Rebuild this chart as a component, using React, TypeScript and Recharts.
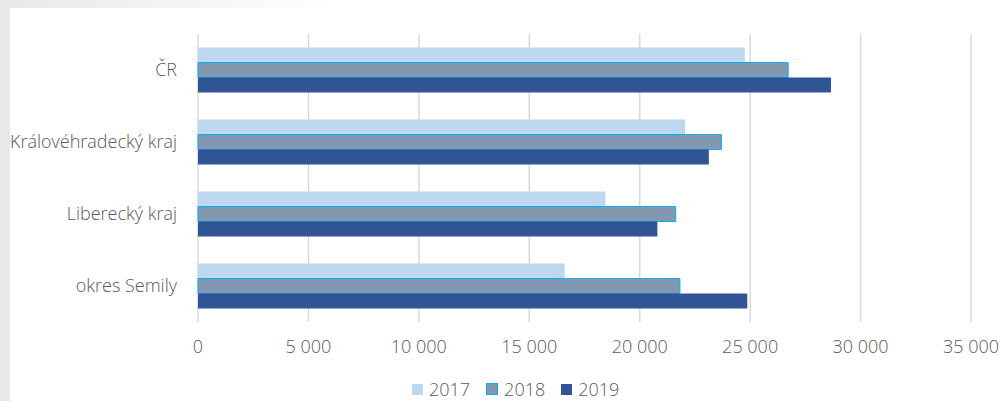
import React from 'react';
import { BarChart, Bar, XAxis, YAxis, CartesianGrid, Legend } from 'recharts';

const categories = ['ČR', 'Královéhradecký kraj', 'Liberecký kraj', 'okres Semily'];
const values2017 = [24760, 22060, 18450, 16600];
const values2018 = [26720, 23700, 21630, 21820];
const values2019 = [28660, 23130, 20800, 24870];
const xTicks = [0, 5000, 10000, 15000, 20000, 25000, 30000, 35000];

const series = [
  { key: 'y2017', name: '2017', fill: '#BDD7EE', stroke: 'none' },
  { key: 'y2018', name: '2018', fill: '#8497B0', stroke: '#00B0F0' },
  { key: 'y2019', name: '2019', fill: '#2F5597', stroke: 'none' },
];

const data = categories.map((name, i) => ({
  name,
  y2017: values2017[i],
  y2018: values2018[i],
  y2019: values2019[i],
}));

const TEXT = '#595959';

// thousands with a space, like "25 000"
const fmt = (v: number) => String(v).replace(/\B(?=(\d{3})+(?!\d))/g, ' ');

const LegendContent = () => (
  <div style={{ display: 'flex', alignItems: 'center', height: 18, paddingLeft: 412, fontSize: 18, color: TEXT, lineHeight: '18px' }}>
    {series.map(s => (
      <div key={s.key} style={{ display: 'flex', alignItems: 'center', marginRight: 16 }}>
        <span
          style={{
            display: 'inline-block',
            width: s.stroke === 'none' ? 11 : 10,
            height: s.stroke === 'none' ? 11 : 10,
            background: s.fill,
            border: s.stroke === 'none' ? 'none' : `1px solid ${s.stroke}`,
            marginRight: 6,
          }}
        />
        <span>{s.name}</span>
      </div>
    ))}
  </div>
);

export default function App() {
  return (
    <div style={{ position: 'absolute', left: 0, top: 0, width: 1002, height: 401, background: '#fff', fontFamily: '"Open Sans", sans-serif', fontWeight: 300 }}>
      {/* grey frame pieces from the original page */}
      <div style={{ position: 'absolute', left: 0, top: 0, width: 10, height: 401, background: '#e8e8e8' }} />
      <div style={{ position: 'absolute', left: 0, top: 0, width: 340, height: 8, background: 'linear-gradient(to right, #e8e8e8, #ffffff)' }} />
      <div style={{ position: 'absolute', left: 0, top: 0 }}>
        <BarChart
          width={1002}
          height={401}
          data={data}
          layout="vertical"
          margin={{ top: 34, right: 31, bottom: 0, left: 0 }}
          barCategoryGap="18.75%"
          barGap={0}
        >
          <CartesianGrid horizontal={false} vertical stroke="#d9d9d9" strokeWidth={1.5} />
          <XAxis
            type="number"
            domain={[0, 35000]}
            ticks={xTicks}
            tickFormatter={fmt}
            axisLine={false}
            tickLine={false}
            tickSize={0}
            tickMargin={18}
            height={61}
            tick={{ fontSize: 18, fill: TEXT }}
          />
          <YAxis
            type="category"
            dataKey="name"
            width={198}
            axisLine={false}
            tickLine={false}
            tickSize={0}
            tickMargin={21}
            tick={{ fontSize: 18, fill: TEXT }}
          />
          <Legend
            verticalAlign="bottom"
            content={<LegendContent />}
            wrapperStyle={{ left: 0, width: 1002, bottom: 3 }}
          />
          {series.map(s => (
            <Bar
              key={s.key}
              dataKey={s.key}
              name={s.name}
              fill={s.fill}
              stroke={s.stroke}
              strokeWidth={s.stroke === 'none' ? 0 : 1}
              isAnimationActive={false}
            />
          ))}
        </BarChart>
      </div>
    </div>
  );
}
